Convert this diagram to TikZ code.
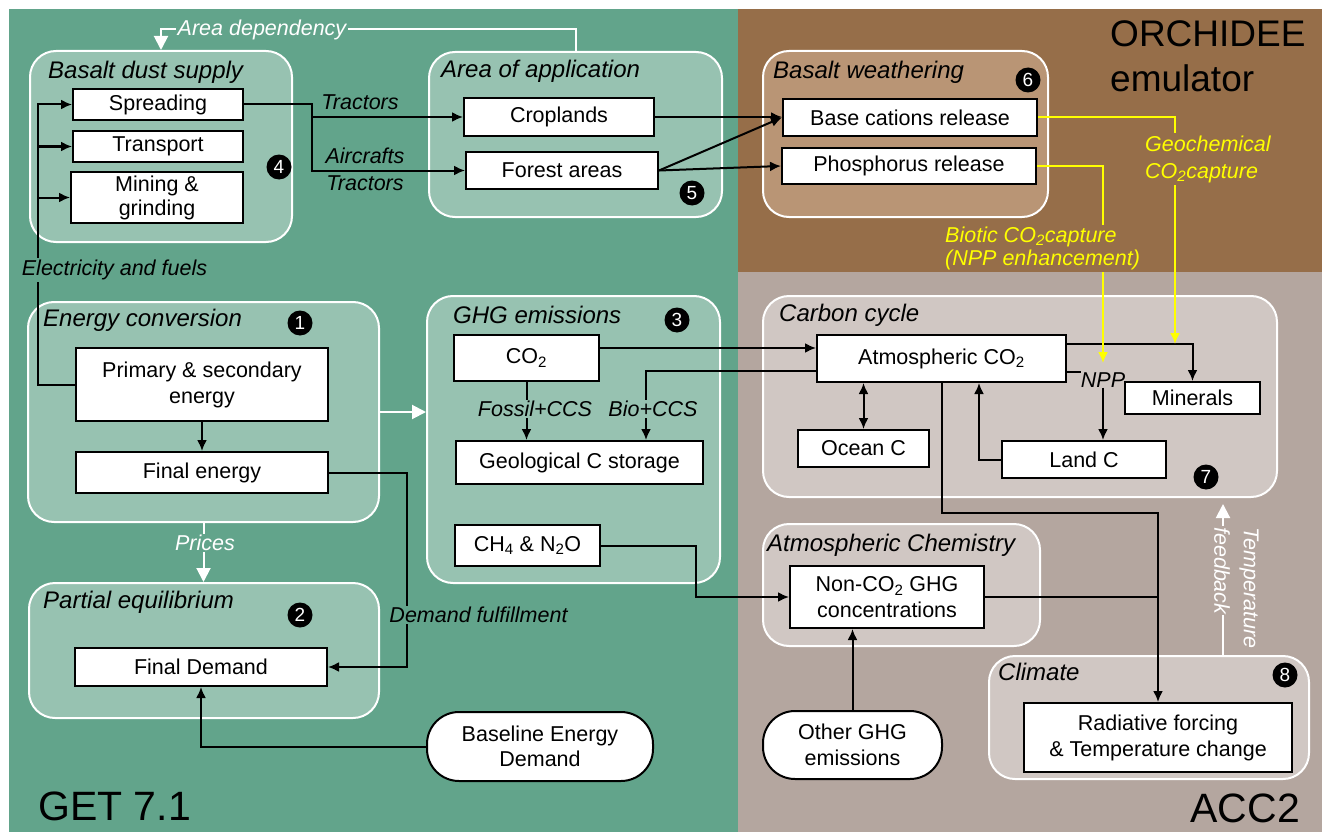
\documentclass[tikz,border=0pt]{standalone}
\usepackage{fontspec}
\setmainfont{Liberation Sans}
\usetikzlibrary{arrows.meta,calc}
\definecolor{gbg}{HTML}{62A48B}
\definecolor{gbox}{HTML}{97C2B1}
\definecolor{bbg}{HTML}{966E49}
\definecolor{bbox}{HTML}{B99575}
\definecolor{cbg}{HTML}{B4A69F}
\definecolor{cbox}{HTML}{D0C7C3}
\definecolor{yel}{HTML}{FFFF00}
\newcommand\bxf{\fontsize{21.5}{25.5}\selectfont}
\newcommand\ttlf{\fontsize{24}{28}\selectfont\itshape}
\newcommand\lblf{\fontsize{21.5}{25}\selectfont\itshape}
\begin{document}
\begin{tikzpicture}[x=1pt,y=-1pt,
 grp/.style={draw=white, line width=2pt, rounded corners=26pt, inner sep=0pt},
 box/.style={draw=black, fill=white, line width=2pt, inner sep=0pt, align=center, font=\bxf},
 term/.style={box, rounded corners=32pt},
 ttl/.style={anchor=west, font=\ttlf, inner sep=0pt},
 lbl/.style={font=\lblf, inner sep=1.5pt, align=center},
 num/.style={circle, fill=black, text=white, inner sep=0pt, minimum size=25pt, font=\fontsize{19}{19}\selectfont},
 conn/.style={line width=2pt, draw=black},
 arr/.style={conn, -{Latex[length=11pt,width=10pt]}},
 darr/.style={conn, {Latex[length=11pt,width=10pt]}-{Latex[length=11pt,width=10pt]}},
 wl/.style={line width=2pt, draw=white},
 warr/.style={wl, -{Triangle[length=14pt,width=14pt]}},
 yl/.style={line width=2pt, draw=yel},
 yarr/.style={yl, -{Latex[length=11pt,width=10pt]}},
 big/.style={font=\fontsize{41}{46}\selectfont, inner sep=0pt}
]
\useasboundingbox (0,0) rectangle (1322,832);
% backgrounds
\fill[white] (0,0) rectangle (1322,832);
\fill[gbg] (9,9) rectangle (738,832);
\fill[bbg] (738,9) rectangle (1322,272);
\fill[cbg] (738,272) rectangle (1322,832);

% groups
\node[grp, fill=gbox, minimum width=262pt, minimum height=191pt] (bds) at (161,146.5) {};
\node[grp, fill=gbox, minimum width=293pt, minimum height=165pt] (aoa) at (575.5,134.5) {};
\node[grp, fill=bbox, minimum width=285pt, minimum height=166pt] (bw) at (905.5,134) {};
\node[grp, fill=gbox, minimum width=351pt, minimum height=220pt] (ec) at (203.5,412) {};
\node[grp, fill=gbox, minimum width=293pt, minimum height=287pt] (ghg) at (573.5,439.5) {};
\node[grp, fill=gbox, minimum width=350pt, minimum height=135pt] (pe) at (204,650.5) {};
\node[grp, fill=cbox, minimum width=514pt, minimum height=201pt] (cc) at (1020,396.5) {};
\node[grp, fill=cbox, minimum width=277pt, minimum height=122pt] (ach) at (901.5,585) {};
\node[grp, fill=cbox, minimum width=320pt, minimum height=123pt] (cl) at (1149,717.5) {};

% titles
\node[ttl] (t1) at (48,72) {Basalt dust supply};
\node[ttl] (t2) at (441,71) {Area of application};
\node[ttl] (t3) at (773,72) {Basalt weathering};
\node[ttl] (t4) at (43,320) {Energy conversion};
\node[ttl] (t5) at (453,315) {GHG emissions};
\node[ttl] (t6) at (43,602) {Partial equilibrium};
\node[ttl] (t7) at (779,315) {Carbon cycle};
\node[ttl] (t8) at (767,545) {Atmospheric Chemistry};
\node[ttl] (t9) at (998,672) {Climate};

% numbers
\node[num] (n4) at (279,167) {4};
\node[num] (n5) at (692,193) {5};
\node[num] (n6) at (1028,80) {6};
\node[num] (n1) at (300,323) {1};
\node[num] (n3) at (677,320) {3};
\node[num] (n2) at (300,615) {2};
\node[num] (n7) at (1206,477) {7};
\node[num] (n8) at (1285,675) {8};

% boxes
\node[box, minimum width=170pt, minimum height=31pt] (spr) at (158,104.5) {Spreading};
\node[box, minimum width=170pt, minimum height=31pt] (tra) at (158,146.5) {Transport};
\node[box, minimum width=172pt, minimum height=51pt, font=\fontsize{21.5}{24}\selectfont] (mng) at (157,197.5) {Mining \&\\grinding};
\node[box, minimum width=190pt, minimum height=38pt] (crp) at (559,117) {Croplands};
\node[box, minimum width=192pt, minimum height=37pt] (frs) at (562,170.5) {Forest areas};
\node[box, minimum width=254pt, minimum height=37pt] (bcr) at (910,117.5) {Base cations release};
\node[box, minimum width=254pt, minimum height=36pt] (phr) at (909,166) {Phosphorus release};
\node[box, minimum width=252pt, minimum height=73pt, font=\fontsize{21.5}{26}\selectfont] (pse) at (202,384.5) {Primary \& secondary\\energy};
\node[box, minimum width=252pt, minimum height=41pt] (fe) at (202,472.5) {Final energy};
\node[box, minimum width=252pt, minimum height=38pt] (fd) at (201,667) {Final Demand};
\node[box, minimum width=145pt, minimum height=46pt] (co2) at (526.5,358) {CO\textsubscript{2}};
\node[box, minimum width=247pt, minimum height=43pt] (gcs) at (579.5,462.5) {Geological C storage};
\node[box, minimum width=145pt, minimum height=41pt] (ch4) at (527.5,545.5) {CH\textsubscript{4} \& N\textsubscript{2}O};
\node[box, minimum width=249pt, minimum height=47pt] (atm) at (941.5,358.5) {Atmospheric CO\textsubscript{2}};
\node[box, minimum width=135pt, minimum height=32pt] (mnr) at (1192.5,398) {Minerals};
\node[box, minimum width=164pt, minimum height=37pt] (lc) at (1084,459.5) {Land C};
\node[box, minimum width=131pt, minimum height=37pt] (oc) at (863.5,448.5) {Ocean C};
\node[box, minimum width=194pt, minimum height=62pt] (nco) at (887,597) {Non-CO\textsubscript{2} GHG\\concentrations};
\node[box, minimum width=268pt, minimum height=69pt, font=\fontsize{21.5}{26}\selectfont] (rad) at (1158,737.5) {Radiative forcing\\\& Temperature change};
\node[term, minimum width=226pt, minimum height=69pt] (bed) at (540,746.5) {Baseline Energy\\Demand};
\node[term, minimum width=179pt, minimum height=68pt, font=\fontsize{21.5}{26}\selectfont] (oge) at (852.5,745) {Other GHG\\emissions};

% big labels
\node[big, anchor=base west, font=\fontsize{37}{44}\selectfont] (orc) at (1110,47) {ORCHIDEE};
\node[big, anchor=base west, font=\fontsize{37}{44}\selectfont] (emu) at (1110,92) {emulator};
\node[big, anchor=base west] (get) at (38,820) {GET 7.1};
\node[big, anchor=base east] (acc) at (1300,822) {ACC2};

% black connectors
\coordinate (ebus) at (38,0);
\draw[arr] (pse.west) -- (pse.west -| ebus) |- (spr.west);
\draw[arr] (ebus |- tra.west) -- (tra.west);
\draw[arr] (ebus |- mng.west) -- (mng.west);
\coordinate (sj) at (312,0);
\draw[arr] (spr.east) -- (spr.east -| sj) |- (frs.west);
\draw[arr] (sj |- crp.west) -- (crp.west);
\draw[arr] (crp.east) -- (crp.east -| bcr.west);
\draw[arr] (frs.east) -- (bcr.west);
\draw[arr] (frs.east) -- (phr.west);
\draw[arr] (pse.south) -- (fe.north);
\draw[arr] (fe.east) -- ++(78,0) |- (fd.east);
\draw[arr] (bed.west) -| (fd.south);
\draw[arr] ([yshift=10pt]co2.east) -- ([yshift=10pt]co2.east -| atm.west);
\draw[arr] (co2.south) -- (co2.south |- gcs.north);
\coordinate (bioX) at (646,0);
\draw[arr] ([yshift=-12.5pt]atm.west) -| (bioX |- gcs.north);
\draw[arr] ([yshift=14.5pt]atm.east) -| (mnr.north);
\node[lbl, inner sep=0pt] (npp) at (1103,380) {NPP};
\draw[conn] ([yshift=-13.5pt]atm.east) -- ++(14,0);
\draw[arr] (npp.south) -- (npp.south |- lc.north);
\draw[arr] (lc.west) -| ([xshift=37.5pt]atm.south);
\draw[darr] (oc.north) -- (oc.north |- atm.south);
\draw[arr] (atm.south) -- ++(0,130) -| (rad.north);
\draw[arr] (ch4.east) -- ++(95,0) |- (nco.west);
\draw[conn] (nco.east) -- (nco.east -| rad.north);
\draw[arr] (oge.north) -- (oge.north |- nco.south);

% white connectors
\draw[warr] (aoa.north) -- (aoa.north |- 0,29.5) -| (bds.north);
\draw[warr] (ec.east) -- (ec.east -| ghg.west);
\draw[warr] (ec.south) -- (ec.south |- pe.north);
\coordinate (tf) at (1223,0);
\draw[warr] (cl.north -| tf) -- ($(cc.south -| tf)+(0,6)$);

% yellow connectors
\coordinate (gy) at (1175,344);
\draw[yarr] (bcr.east) -| (gy);
\node[lbl, text=yel, fill=bbg, align=left, anchor=west, inner sep=2pt, font=\fontsize{21.5}{27}\selectfont\itshape] (geo) at (1143,159) {Geochemical\\CO\textsubscript{2}capture};
\node[lbl, text=yel, align=left, anchor=west, inner sep=1pt, font=\fontsize{21.5}{23}\selectfont\itshape] (bio) at (944,248) {Biotic CO\textsubscript{2}capture\\(NPP enhancement)};
\coordinate (bx) at (1103,0);
\coordinate (ytip) at (1103,363);
\draw[yl] (phr.east) -| (bx |- bio.north);
\draw[yarr] (bx |- 0,272) -- (ytip);

% labels
\node[lbl, text=white, fill=gbg] (ad) at (262,30) {Area dependency};
\node[lbl, fill=gbg] (ef) at (114.5,270) {Electricity and fuels};
\node[lbl] (tr1) at (360,102) {Tractors};
\node[lbl] (acf) at (365,156) {Aircrafts};
\node[lbl] (tr2) at (365,183) {Tractors};
\node[lbl, text=white, fill=gbg] (prc) at (205,543) {Prices};
\node[lbl, fill=gbox] (fccs) at (535,409) {Fossil+CCS};
\node[lbl, fill=gbox] (bccs) at (653,409) {Bio+CCS};
\node[lbl, fill=gbg] (df) at (478.5,615) {Demand fulfillment};
\node[lbl, text=white, fill=cbg, rotate=-90, anchor=west, inner sep=1pt] (fb) at (1222,526) {feedback};
\node[lbl, text=white, rotate=-90, anchor=west, inner sep=1pt] (tmp) at (1249,526) {Temperature};
\end{tikzpicture}
\end{document}
